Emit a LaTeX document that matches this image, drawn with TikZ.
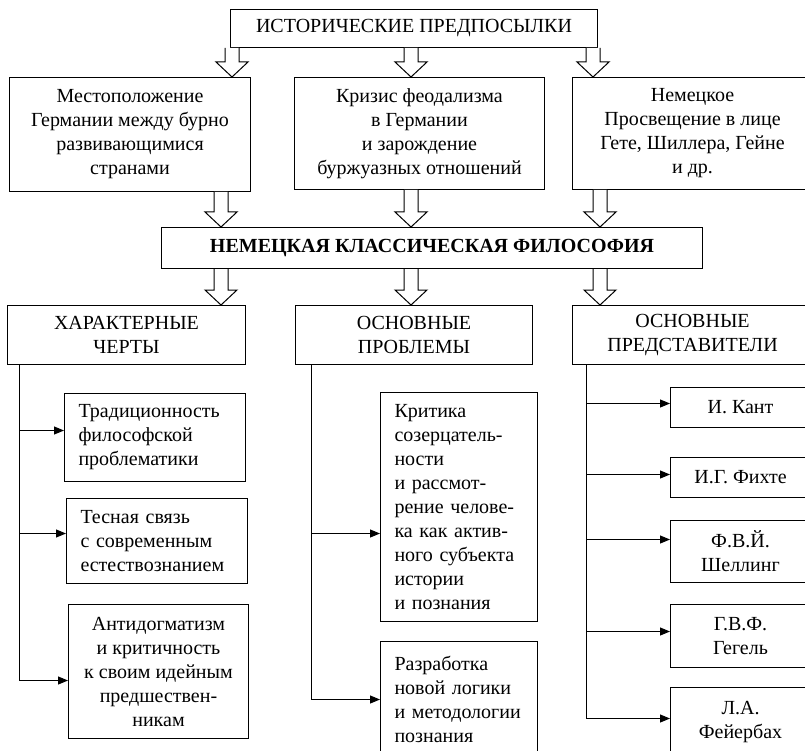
\documentclass[tikz,border=0pt]{standalone}
\usepackage{fontspec}
\setmainfont{Liberation Serif}
\usetikzlibrary{arrows.meta,positioning,calc}
\newcommand{\hollowarrow}[2]{%
  \draw[fill=white] let \p1=(#1), \p2=(#2) in
    (\x1-7pt,\y1) -- (\x1-7pt,\y2+15pt) -- (\x1-16pt,\y2+15pt) -- (\x1,\y2)
    -- (\x1+16pt,\y2+15pt) -- (\x1+7pt,\y2+15pt) -- (\x1+7pt,\y1);}

\begin{document}
\begin{tikzpicture}[x=1pt, y=-1pt, line width=1pt, >={Triangle[length=10pt,width=8pt]},
  box/.style={draw, inner sep=0pt, anchor=north west, align=center, font=\fontsize{20}{24}\selectfont},
  leftbox/.style={box, align=left, inner xsep=14pt}]
\useasboundingbox (0,0) rectangle (805,751);
\node[box, minimum width=367pt, minimum height=38pt] (hist) at (230,9) {ИСТОРИЧЕСКИЕ ПРЕДПОСЫЛКИ};
\node[box, minimum width=241pt, minimum height=114pt] (pre1) at (9,77) {Местоположение\\Германии между бурно\\развивающимися\\странами};
\node[box, minimum width=250pt, minimum height=112pt] (pre2) at (294,77) {Кризис феодализма\\в Германии\\и зарождение\\буржуазных отношений};
\node[box, minimum width=240pt, minimum height=112pt] (pre3) at (572,77) {Немецкое\\Просвещение в лице\\Гете, Шиллера, Гейне\\и др.};
\node[box, minimum width=541pt, minimum height=41pt, font=\fontsize{20}{24}\selectfont\bfseries] (phil) at (161,227) {НЕМЕЦКАЯ КЛАССИЧЕСКАЯ ФИЛОСОФИЯ};
\node[box, minimum width=238pt, minimum height=59pt] (feat) at (7,305) {ХАРАКТЕРНЫЕ\\ЧЕРТЫ};
\node[box, minimum width=237pt, minimum height=59pt] (prob) at (295,305) {ОСНОВНЫЕ\\ПРОБЛЕМЫ};
\node[box, minimum width=240pt, minimum height=59pt] (repr) at (572,305) {ОСНОВНЫЕ\\ПРЕДСТАВИТЕЛИ};

\node[leftbox, text width=153pt, minimum height=88pt] (f1) at (64,393) {Традиционность\\философской\\проблематики};
\node[leftbox, text width=153pt, minimum height=85pt] (f2) at (66,498) {Тесная связь\\с современным\\естествознанием};
\node[box, minimum width=180pt, minimum height=134pt] (f3) at (68,604) {Антидогматизм\\и критичность\\к своим идейным\\предшествен-\\никам};

\node[leftbox, text width=129pt, minimum height=229pt] (p1) at (380,392) {Критика\\созерцатель-\\ности\\и рассмот-\\рение челове-\\ка как актив-\\ного субъекта\\истории\\и познания};
\node[leftbox, text width=129pt, minimum height=116pt] (p2) at (380,641) {Разработка\\новой логики\\и методологии\\познания};

\node[box, minimum width=140pt, minimum height=40pt] (r1) at (670,387) {И. Кант};
\node[box, minimum width=140pt, minimum height=40pt] (r2) at (670,457) {И.Г. Фихте};
\node[box, minimum width=140pt, minimum height=62pt] (r3) at (670,520) {Ф.В.Й.\\Шеллинг};
\node[box, minimum width=140pt, minimum height=63pt] (r4) at (670,604) {Г.В.Ф.\\Гегель};
\node[box, minimum width=140pt, minimum height=70pt] (r5) at (670,687) {Л.А.\\Фейербах};

\foreach \ax/\bx in {232/pre1, 411/pre2, 593/pre3}
  \hollowarrow{hist.south -| \ax,0}{\bx.north -| \ax,0};
\foreach \ax/\bx in {221/pre1, 411/pre2, 600/pre3}
  \hollowarrow{\bx.south -| \ax,0}{phil.north -| \ax,0};
\foreach \ax/\bx in {221/feat, 411/prob, 600/repr}
  \hollowarrow{phil.south -| \ax,0}{\bx.north -| \ax,0};

\coordinate (tf) at ([xshift=12pt]feat.south west);
\coordinate (a1) at ([yshift=7pt]f1.west);
\coordinate (a2) at ([yshift=7.5pt]f2.west);
\coordinate (a3) at ([yshift=-9pt]f3.west);
\draw[->] (tf) |- (a3);
\foreach \a in {a1,a2} \draw[->] (tf |- \a) -- (\a);

\coordinate (tp) at ([xshift=16pt]prob.south west);
\coordinate (b1) at ([yshift=-26.5pt]p1.west);
\draw[->] (tp) |- (p2.west);
\draw[->] (tp |- b1) -- (b1);

\coordinate (tr) at ([xshift=14pt]repr.south west);
\coordinate (c1) at ([yshift=4pt]r1.west);
\coordinate (c2) at ([yshift=3pt]r2.west);
\coordinate (c3) at ([yshift=12pt]r3.west);
\coordinate (c4) at ([yshift=4.5pt]r4.west);
\coordinate (c5) at ([yshift=4pt]r5.west);
\draw[->] (tr) |- (c5);
\foreach \c in {c1,c2,c3,c4} \draw[->] (tr |- \c) -- (\c);
\end{tikzpicture}
\end{document}
